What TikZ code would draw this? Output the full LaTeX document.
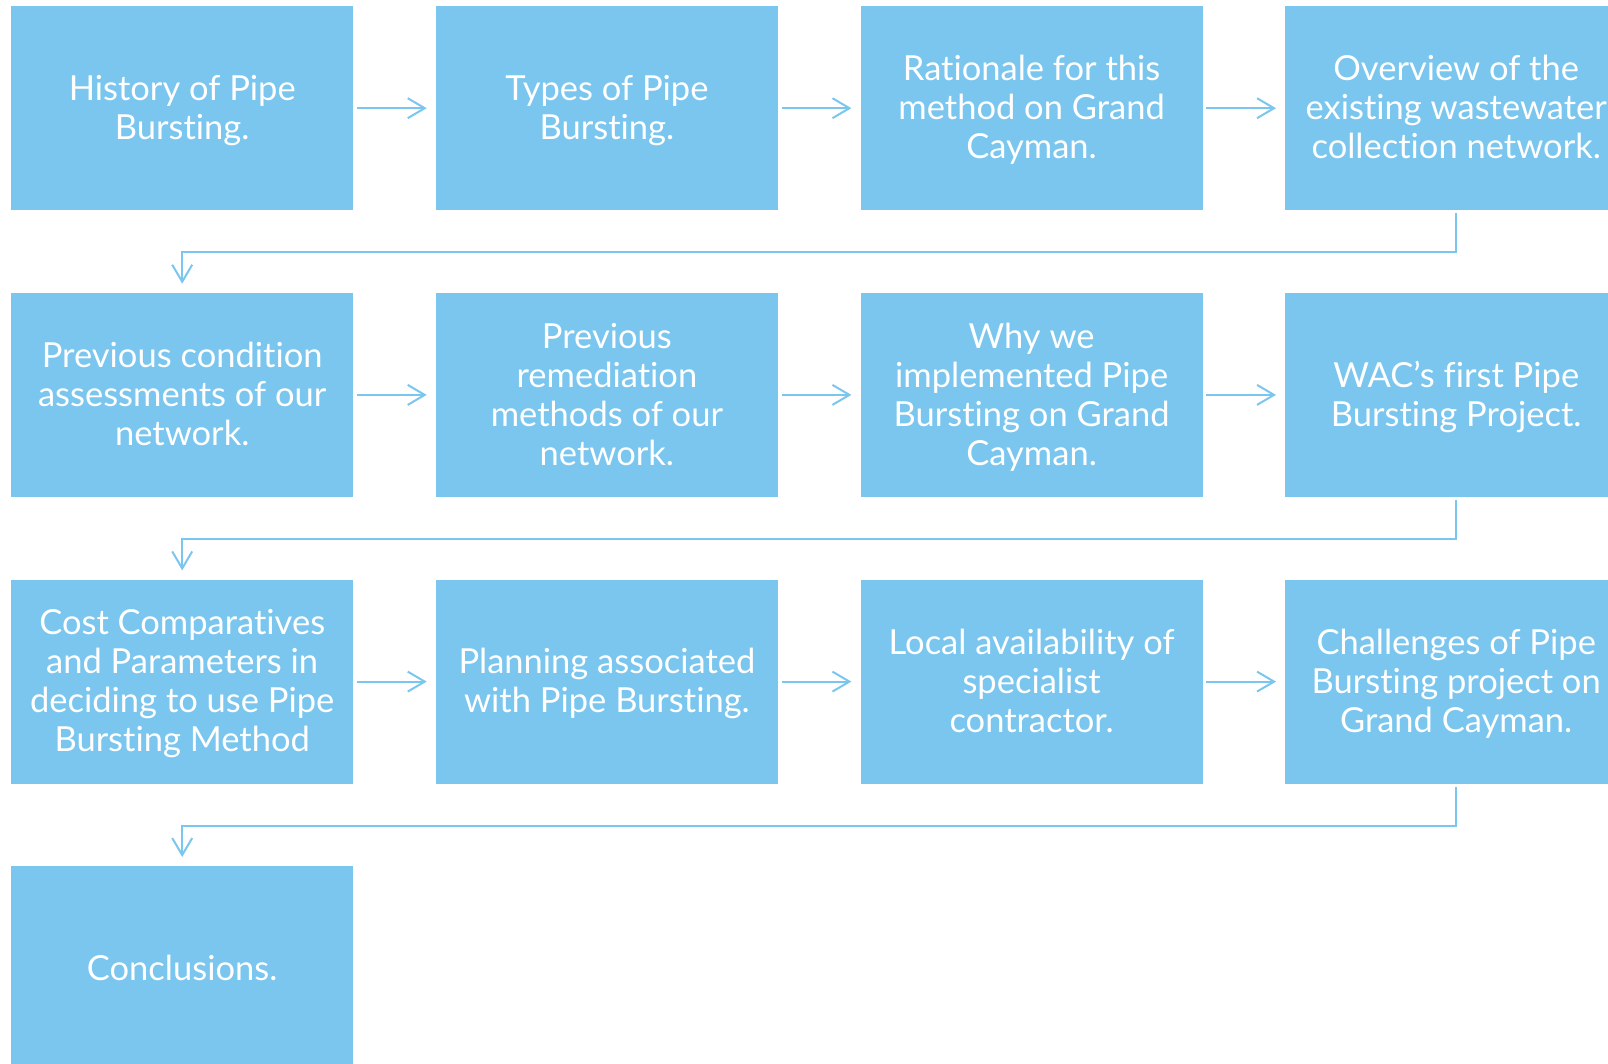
\documentclass[tikz,border=0pt]{standalone}
\usepackage{fontspec}
\setmainfont{Lato}[Ligatures=NoCommon]
\usetikzlibrary{arrows.meta}
\definecolor{boxblue}{RGB}{122,198,238}
\newcommand\lnstrut{\rule[-7.7pt]{0pt}{39pt}}
\begin{document}
\begin{tikzpicture}[x=1pt,y=-1pt,
  box/.style={fill=boxblue, draw=none, minimum width=342pt, minimum height=204pt,
    inner sep=0pt, align=center, text=white, anchor=north west,
    font=\fontsize{34.5}{39}\selectfont},
  conn/.style={draw=boxblue, line width=2pt,
    -{Straight Barb[length=17pt,width=20pt,line width=2pt]},
    shorten <=3.5pt, shorten >=9pt},
  turn/.style={draw=boxblue, line width=2pt,
    -{Straight Barb[length=17pt,width=20pt,line width=2pt]},
    shorten <=3pt, shorten >=9pt}]
\useasboundingbox (0,0) rectangle (1608,1064);
\clip (0,0) rectangle (1608,1064);
% row 1
\node[box] (b1) at (11,6) {\lnstrut History of Pipe\\Bursting.\lnstrut};
\node[box] (b2) at (435.7,6) {\lnstrut Types of Pipe\\Bursting.\lnstrut};
\node[box] (b3) at (860.4,6) {\lnstrut Rationale for this\\method on Grand\\Cayman.\lnstrut};
\node[box] (b4) at (1285,6) {\lnstrut Overview of the\\existing wastewater\\collection network.\lnstrut};
% row 2
\node[box] (b5) at (11,292.7) {\lnstrut Previous condition\\assessments of our\\network.\lnstrut};
\node[box] (b6) at (435.7,292.7) {\lnstrut Previous\\remediation\\methods of our\\network.\lnstrut};
\node[box] (b7) at (860.4,292.7) {\lnstrut Why we\\implemented Pipe\\Bursting on Grand\\Cayman.\lnstrut};
\node[box] (b8) at (1285,292.7) {\lnstrut WAC’s first Pipe\\Bursting Project.\lnstrut};
% row 3
\node[box] (b9) at (11,579.4) {\lnstrut Cost Comparatives\\and Parameters in\\deciding to use Pipe\\Bursting Method\lnstrut};
\node[box] (b10) at (435.7,579.4) {\lnstrut Planning associated\\with Pipe Bursting.\lnstrut};
\node[box] (b11) at (860.4,579.4) {\lnstrut Local availability of\\specialist\\contractor.\lnstrut};
\node[box] (b12) at (1285,579.4) {\lnstrut Challenges of Pipe\\Bursting project on\\Grand Cayman.\lnstrut};
% row 4
\node[box] (b13) at (11,866) {\lnstrut Conclusions.\lnstrut};
% horizontal connectors
\draw[conn] (b1.east) -- (b2.west);
\draw[conn] (b2.east) -- (b3.west);
\draw[conn] (b3.east) -- (b4.west);
\draw[conn] (b5.east) -- (b6.west);
\draw[conn] (b6.east) -- (b7.west);
\draw[conn] (b7.east) -- (b8.west);
\draw[conn] (b9.east) -- (b10.west);
\draw[conn] (b10.east) -- (b11.west);
\draw[conn] (b11.east) -- (b12.west);
% row-to-row connectors
\draw[turn] (b4.south) -- ++(0,41.7) -| (b5.north);
\draw[turn] (b8.south) -- ++(0,41.7) -| (b9.north);
\draw[turn] (b12.south) -- ++(0,41.7) -| (b13.north);
\end{tikzpicture}
\end{document}
